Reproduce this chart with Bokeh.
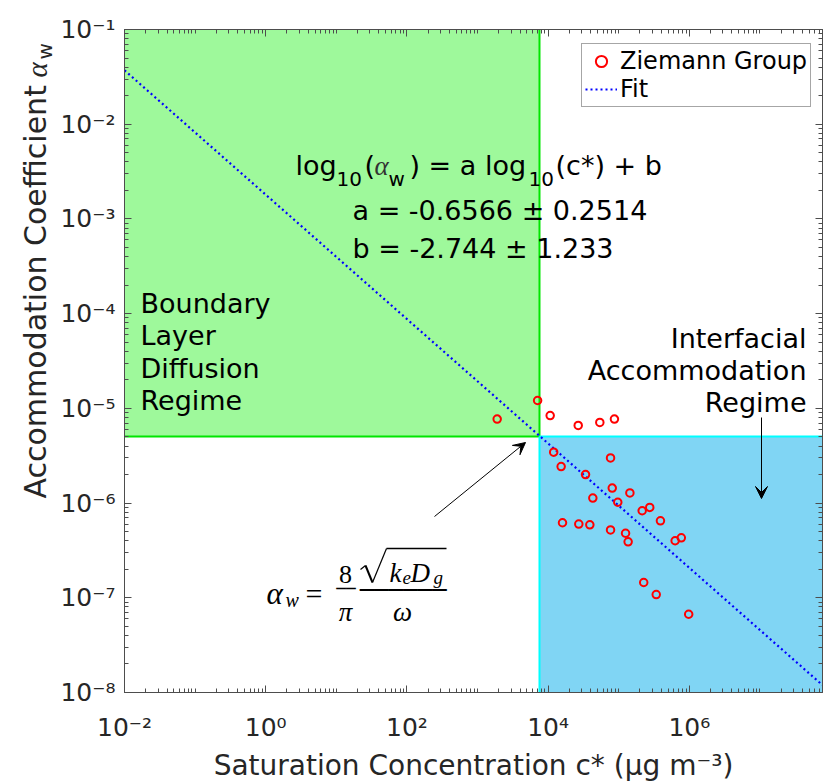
import math
from bokeh.plotting import figure
from bokeh.layouts import row
from bokeh.models import (Range1d, LogAxis, FixedTicker, CustomJSTickFormatter, Label,
                          Arrow, VeeHead, Legend, LegendItem)
from bokeh.embed import file_html
from bokeh.resources import INLINE

# ---------------- data ----------------
c_star = [1.9e3, 7.1e3, 1.07e4, 2.67e4, 5.4e4, 8.7e4, 1.2e4, 7.66e4, 1.53e4, 3.39e4,
          8.1e4, 1.44e5, 4.3e4, 9.7e4, 2.15e5, 2.75e5, 3.9e5, 1.6e4, 2.72e4, 3.9e4,
          7.66e4, 1.25e5, 1.36e5, 6.3e5, 7.7e5, 2.26e5, 3.4e5, 9.8e5]
alpha_w = [7.7e-6, 1.21e-5, 8.4e-6, 6.6e-6, 7.1e-6, 7.7e-6, 3.45e-6, 3.0e-6, 2.43e-6, 2.0e-6,
           1.44e-6, 1.28e-6, 1.13e-6, 1.02e-6, 8.3e-7, 9.0e-7, 6.5e-7, 6.2e-7, 6.0e-7, 5.9e-7,
           5.2e-7, 4.8e-7, 3.9e-7, 4.0e-7, 4.3e-7, 1.45e-7, 1.08e-7, 6.7e-8]
fit_a = -0.6566
fit_b = -2.744
fit_x = [1e-2, 1e8]
regime_c = 7.55e3
regime_alpha = 5.03e-6
x_lim = [1e-2, 7.7e7]
y_lim = [1e-8, 1e-1]
x_major = [1e-2, 1e0, 1e2, 1e4, 1e6]
y_major = [1e-8, 1e-7, 1e-6, 1e-5, 1e-4, 1e-3, 1e-2, 1e-1]
legend_labels = ["Ziemann Group", "Fit"]

fit_y = [10 ** fit_b * x ** fit_a for x in fit_x]

x_minor = [m * 10.0 ** d for d in range(-2, 8) for m in range(1, 10)
           if not (m == 1 and d % 2 == 0)]
y_minor = [m * 10.0 ** d for d in range(-8, -1) for m in range(2, 10)]

AX = "#4d4d4d"
TXT = "#262626"
LW = 55            # width of the strip that holds the y axis title
H = 784

p = figure(width=823 - LW, height=H, x_axis_type="log", y_axis_type="log",
           x_range=Range1d(*x_lim), y_range=Range1d(*y_lim),
           output_backend="svg", toolbar_location=None,
           min_border_left=124 - LW, min_border_right=1, min_border_top=29, min_border_bottom=92)
p.grid.visible = False
p.outline_line_color = AX
p.background_fill_color = "white"

fmt = CustomJSTickFormatter(code="""
const e = Math.round(Math.log10(tick));
const m = {"-":"\u207b","0":"\u2070","1":"\u00b9","2":"\u00b2","3":"\u00b3","4":"\u2074",
           "5":"\u2075","6":"\u2076","7":"\u2077","8":"\u2078","9":"\u2079"};
return "10" + String(e).split("").map(ch => m[ch]).join("");
""")
blank_fmt = CustomJSTickFormatter(code='return "";')

def style_axis(ax, show_labels):
    ax.major_tick_in = 7
    ax.major_tick_out = 0
    ax.minor_tick_in = 4
    ax.minor_tick_out = 0
    ax.axis_line_color = AX
    ax.major_tick_line_color = AX
    ax.minor_tick_line_color = AX
    if show_labels:
        ax.formatter = fmt
        ax.major_label_text_font = "DejaVu Sans"
        ax.major_label_text_font_size = "25px"
        ax.major_label_text_color = TXT
    else:
        ax.formatter = blank_fmt
        ax.major_label_standoff = 0

p.xaxis[0].ticker = FixedTicker(ticks=x_major, minor_ticks=x_minor)
p.yaxis[0].ticker = FixedTicker(ticks=y_major, minor_ticks=y_minor)
style_axis(p.xaxis[0], True)
style_axis(p.yaxis[0], True)
p.xaxis[0].major_label_standoff = 20
p.yaxis[0].major_label_standoff = 9
p.xaxis[0].axis_label = "Saturation Concentration c* (\u03bcg m\u207b\u00b3)"
p.xaxis[0].axis_label_text_font = "DejaVu Sans"
p.xaxis[0].axis_label_text_font_size = "28px"
p.xaxis[0].axis_label_text_font_style = "normal"
p.xaxis[0].axis_label_text_color = TXT
p.xaxis[0].axis_label_standoff = 4

top_ax = LogAxis(ticker=FixedTicker(ticks=x_major, minor_ticks=x_minor))
right_ax = LogAxis(ticker=FixedTicker(ticks=y_major, minor_ticks=y_minor))
style_axis(top_ax, False)
style_axis(right_ax, False)
p.add_layout(top_ax, "above")
p.add_layout(right_ax, "right")

# regions
p.quad(left=[x_lim[0]], right=[regime_c], bottom=[regime_alpha], top=[y_lim[1]],
       fill_color="#9ef99b", line_color=None)
p.quad(left=[regime_c], right=[fit_x[1]], bottom=[y_lim[0]], top=[regime_alpha],
       fill_color="#80d5f4", line_color=None)
p.line([regime_c, regime_c], [regime_alpha, y_lim[1]], line_color="#00e600", line_width=2)
p.line([x_lim[0], regime_c], [regime_alpha, regime_alpha], line_color="#00e600", line_width=2)
p.line([regime_c, regime_c], [y_lim[0], regime_alpha], line_color="#00ffff", line_width=2)
p.line([regime_c, fit_x[1]], [regime_alpha, regime_alpha], line_color="#00ffff", line_width=2)

fit_r = p.line(fit_x, fit_y, line_color="#0000ff", line_width=2.2, line_dash="2 3")
pts_r = p.scatter(c_star, alpha_w, marker="circle", size=7.5, fill_color=None,
                  line_color="#ff0000", line_width=2)

legend = Legend(items=[LegendItem(label=legend_labels[0], renderers=[pts_r]),
                       LegendItem(label=legend_labels[1], renderers=[fit_r])],
                location=(457, 585))
legend.label_text_font = "DejaVu Sans"
legend.label_text_font_size = "24px"
legend.label_text_color = "#000000"
legend.border_line_color = AX
legend.border_line_width = 1
legend.padding = 3
legend.spacing = 0
legend.margin = 0
legend.glyph_width = 32
legend.glyph_height = 28
legend.label_height = 28
legend.label_standoff = 3
legend.background_fill_color = "white"
legend.background_fill_alpha = 1.0
p.add_layout(legend)

# page position of the frame's left and bottom edges
FL, FB = 124, 692

def lab(fig, ox, oy, text, px, py, size, font="DejaVu Sans", style="normal",
        align="left", color="#000000", angle=0):
    fig.add_layout(Label(x=px - ox, y=oy - py, x_units="screen", y_units="screen",
                         text=text, text_font=font, text_font_size=f"{size}px",
                         text_font_style=style, text_align=align,
                         text_baseline="alphabetic", text_color=color,
                         angle=angle, angle_units="deg"))

def mlab(*a, **k):
    lab(p, FL, FB, *a, **k)

def seg(x0, y0, x1, y1, width=1.0, head=False):
    p.add_layout(Arrow(x_start=x0 - FL, y_start=FB - y0, x_end=x1 - FL, y_end=FB - y1,
                       start_units="screen", end_units="screen",
                       line_color="#000000", line_width=width,
                       end=VeeHead(size=12, fill_color="#000000", line_color="#000000") if head else None))

# equation
mlab("log", 295, 165, 27)
mlab("10", 336, 178, 20)
mlab("(", 364, 165, 27)
mlab("\u03b1", 374, 165, 27, font="Liberation Serif", style="italic", color="#333333")
mlab("w", 388, 178, 20)
mlab(") = a log", 409, 165, 27)
mlab("10", 528, 178, 20)
mlab("(c*) + b", 555, 165, 27)
mlab("a = -0.6566 \u00b1 0.2514", 352, 210, 27)
mlab("b = -2.744 \u00b1 1.233", 352, 248, 27)

# regime texts
for t_, yb in zip(["Boundary", "Layer", "Diffusion", "Regime"], [303, 335, 368, 400]):
    mlab(t_, 140, yb, 27)
for t_, yb in zip(["Interfacial", "Accommodation", "Regime"], [338, 370, 402]):
    mlab(t_, 806, yb, 27, align="right")

# arrows
seg(434, 516, 525, 442, head=True)
seg(761, 417, 761, 498, head=True)

# formula alpha_w = 8/pi * sqrt(k_e D_g)/omega
SER = "Liberation Serif"
mlab("\u03b1", 266, 593, 31, font=SER, style="italic")
mlab("w", 285, 599, 20, font=SER, style="italic")
mlab("=", 305, 593, 30, font=SER)
mlab("8", 345, 574, 26, font=SER, align="center")
mlab("\u03c0", 345, 611, 27, font=SER, style="italic", align="center")
seg(360, 569, 365, 565, width=1.2)
seg(365, 565, 372, 582, width=2)
seg(372, 582, 386, 548, width=1.2)
seg(386, 548, 446, 548, width=1.5)
mlab("k", 389, 572, 27, font=SER, style="italic")
mlab("e", 402, 577, 19, font=SER, style="italic")
mlab("D", 410, 572, 27, font=SER, style="italic")
mlab("g", 433, 577, 19, font=SER, style="italic")
mlab("\u03c9", 402, 611, 27, font=SER, style="italic", align="center")
# fraction bars (box-drawing strokes, drawn last)
MONO = "DejaVu Sans Mono"
mlab("\u2500\u2500", 345.5, 587.5, 16, font=MONO, align="center")
mlab("\u2500" * 6, 402.5, 589.5, 24, font=MONO, align="center")

# strip with the y axis title
t = figure(width=LW, height=H, x_range=Range1d(0, 1), y_range=Range1d(0, 1),
           output_backend="svg", toolbar_location=None, min_border=0,
           min_border_left=0, min_border_right=0, min_border_top=0, min_border_bottom=0,
           x_axis_location=None, y_axis_location=None, outline_line_color=None)
t.grid.visible = False
t.background_fill_color = "white"
lab(t, 0, H, "Accommodation Coefficient", 35, 590, 30, color=TXT, angle=90)
lab(t, 0, H, "\u03b1", 36, 169, 29, font=SER, style="italic", color=TXT, angle=90)
lab(t, 0, H, "w", 44, 151, 20, color=TXT, angle=90)

layout = row(t, p, spacing=0)
open("out.html", "w").write(file_html(layout, INLINE))
